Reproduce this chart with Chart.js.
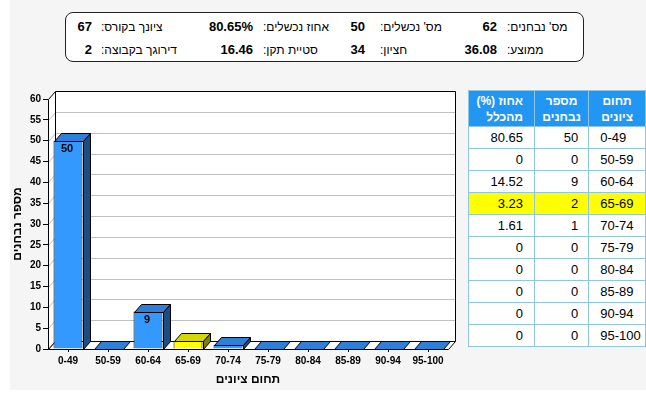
<!DOCTYPE html>
<html lang="he">
<head>
<meta charset="utf-8">
<title>התפלגות ציונים</title>
<script src="https://cdn.jsdelivr.net/npm/chart.js@4.4.1/dist/chart.umd.min.js"></script>
<style>
  body { margin: 0; background: #fff; font-family: "Liberation Sans", Arial, sans-serif; }
  #page { position: absolute; left: 10px; top: 0; width: 636px; height: 390px; background: #f5f5f5; }
  #stats { position: absolute; left: 65px; top: 12px; width: 517px; height: 48px; background: #fff;
           border: 1px solid #222; border-radius: 8px; }
  #stats span { position: absolute; line-height: 16px; font-size: 12px; white-space: nowrap; color: #000; }
  #stats span.val { font-weight: bold; font-size: 13px; }
  #chartBox { position: absolute; left: 0; top: 85px; width: 470px; height: 305px; }
  #dist { position: absolute; left: 468px; top: 90px; border-collapse: collapse; table-layout: fixed;
          font-size: 13px; color: #000; }
  #dist th, #dist td { border: 1px solid #8ec6e6; }
  #dist th { background: #2196f3; color: #fff; font-weight: bold; font-size: 12px; line-height: 16px; height: 35px; padding: 0; }
  #dist td { height: 21px; padding: 0; }
  #dist .c-range { width: 57px; }
  #dist .c-count { width: 51px; }
  #dist .c-pct { width: 63px; }
  #dist th.c-range, #dist th.c-count { text-align: center; }
  #dist th.c-pct { text-align: right; padding-right: 11px; }
  #dist td.c-range { text-align: left; padding-left: 11px; }
  #dist td.c-count { text-align: right; padding-right: 10px; }
  #dist td.c-pct { text-align: right; padding-right: 11px; }
  #dist tr.mine td { background: #ffff00; }
  #dist tbody tr { background: #fff; }
</style>
</head>
<body>
<div id="page"></div>
<div id="stats" dir="rtl"></div>
<div id="chartBox"><canvas id="gradeChart" width="470" height="305"></canvas></div>
<table id="dist" dir="rtl">
  <thead>
    <tr>
      <th class="c-range">תחום<br>ציונים</th>
      <th class="c-count">מספר<br>נבחנים</th>
      <th class="c-pct">אחוז (%)<br>מהכלל</th>
    </tr>
  </thead>
  <tbody id="distBody"></tbody>
</table>

<script>
const ranges = ["0-49", "50-59", "60-64", "65-69", "70-74", "75-79", "80-84", "85-89", "90-94", "95-100"];
const counts = [50, 0, 9, 2, 1, 0, 0, 0, 0, 0];
const percents = [80.65, 0, 14.52, 3.23, 1.61, 0, 0, 0, 0, 0];
const myRange = "65-69";

const statLabels = ["מס' נבחנים:", "מס' נכשלים:", "אחוז נכשלים:", "ציונך בקורס:",
                    "ממוצע:", "חציון:", "סטיית תקן:", "דירוגך בקבוצה:"];
const statValues = ["62", "50", "80.65%", "67", "36.08", "34", "16.46", "2"];

const xTitle = "תחום ציונים";
const yTitle = "מספר נבחנים";

// look
const FONT = "'Liberation Sans', Arial, sans-serif";
const DEPTH_X = 7, DEPTH_Y = 8;
const colors = {
  normal: { front: "#3399ff", top: "#2f7fd8", side: "#1d4d80" },
  mine:   { front: "#ffff00", top: "#d6d600", side: "#7f7f00" }
};
// labels are left-aligned, values right-aligned (offsets inside the stats box)
const statLabelLeft = [441, 314, 197, 35];
const statValueRight = [86, 218, 330, 491];

// stats box
const stats = document.querySelector("#stats");
statLabels.forEach((label, i) => {
  const row = Math.floor(i / 4), col = i % 4;
  const top = row === 0 ? 6 : 29;
  const l = document.createElement("span");
  l.textContent = label;
  l.style.left = statLabelLeft[col] + "px";
  l.style.top = top + "px";
  stats.appendChild(l);
  const v = document.createElement("span");
  v.className = "val";
  v.textContent = statValues[i];
  v.style.right = statValueRight[col] + "px";
  v.style.top = top + "px";
  stats.appendChild(v);
});

// table
const distBody = document.querySelector("#distBody");
ranges.forEach((r, i) => {
  const tr = document.createElement("tr");
  if (r === myRange) tr.classList.add("mine");
  tr.innerHTML = `<td class="c-range">${r}</td><td class="c-count">${counts[i]}</td><td class="c-pct">${percents[i]}</td>`;
  distBody.appendChild(tr);
});

function poly(ctx, pts, fill) {
  ctx.beginPath();
  ctx.moveTo(pts[0][0], pts[0][1]);
  pts.slice(1).forEach(p => ctx.lineTo(p[0], p[1]));
  ctx.closePath();
  if (fill) { ctx.fillStyle = fill; ctx.fill(); }
  ctx.stroke();
}

const px = v => Math.round(v) + 0.5;

const box3d = {
  id: "box3d",
  beforeDatasetsDraw(chart) {
    const { ctx, chartArea: a, scales: { y } } = chart;
    const L = px(a.left), R = px(a.right), T = px(a.top), B = px(a.bottom);
    ctx.save();
    ctx.lineWidth = 1;
    ctx.fillStyle = "#fff";
    ctx.fillRect(L + DEPTH_X, T - DEPTH_Y, R - L, B - T);
    ctx.beginPath();
    ctx.moveTo(L, T); ctx.lineTo(L + DEPTH_X, T - DEPTH_Y); ctx.lineTo(L + DEPTH_X, B - DEPTH_Y); ctx.lineTo(L, B);
    ctx.closePath(); ctx.fill();

    ctx.strokeStyle = "#c0c0c0";
    y.ticks.forEach(t => {
      if (t.value === y.min || t.value === y.max) return;
      const py = px(y.getPixelForValue(t.value));
      ctx.beginPath();
      ctx.moveTo(L, py);
      ctx.lineTo(L + DEPTH_X, py - DEPTH_Y);
      ctx.lineTo(R + DEPTH_X, py - DEPTH_Y);
      ctx.stroke();
    });

    ctx.strokeStyle = "#000";
    // walls outline
    poly(ctx, [[L, B], [L, T], [L + DEPTH_X, T - DEPTH_Y], [L + DEPTH_X, B - DEPTH_Y]], null);
    ctx.beginPath();
    ctx.moveTo(L + DEPTH_X, T - DEPTH_Y);
    ctx.lineTo(R + DEPTH_X, T - DEPTH_Y);
    ctx.lineTo(R + DEPTH_X, B - DEPTH_Y);
    ctx.stroke();
    // floor
    poly(ctx, [[L, B], [R, B], [R + DEPTH_X, B - DEPTH_Y], [L + DEPTH_X, B - DEPTH_Y]], "#fff");
    ctx.restore();
  },
  afterDatasetsDraw(chart) {
    const { ctx } = chart;
    const meta = chart.getDatasetMeta(0);
    ctx.save();
    ctx.lineWidth = 1;
    ctx.strokeStyle = "#000";
    meta.data.forEach((bar, i) => {
      const { x, y, base, width } = bar.getProps(["x", "y", "base", "width"], true);
      const c = ranges[i] === myRange ? colors.mine : colors.normal;
      const l = px(x - width / 2), r = px(x + width / 2), t = px(y), b = px(base);
      poly(ctx, [[l, t], [r, t], [r + DEPTH_X, t - DEPTH_Y], [l + DEPTH_X, t - DEPTH_Y]], c.top);
      if (b - t > 0) {
        poly(ctx, [[r, t], [r + DEPTH_X, t - DEPTH_Y], [r + DEPTH_X, b - DEPTH_Y], [r, b]], c.side);
      }
      if (b - t >= 20) {
        ctx.fillStyle = "#000";
        ctx.font = "bold 11px " + FONT;
        ctx.textAlign = "center";
        ctx.textBaseline = "middle";
        ctx.fillText(String(counts[i]), x - 1, t + 7);
      }
    });
    ctx.restore();
  }
};

const tickFont = { family: FONT, size: 10, weight: "bold" };
const titleFont = { family: FONT, size: 12, weight: "bold" };

new Chart(document.querySelector("#gradeChart"), {
  type: "bar",
  data: {
    labels: ranges,
    datasets: [{
      data: counts,
      backgroundColor: ranges.map(r => r === myRange ? colors.mine.front : colors.normal.front),
      borderColor: "#000",
      borderWidth: 1,
      barPercentage: 0.725,
      categoryPercentage: 1
    }]
  },
  options: {
    responsive: false,
    animation: false,
    layout: { padding: { top: 14, right: 22, left: 0, bottom: 0 } },
    plugins: { legend: { display: false }, tooltip: { enabled: false } },
    scales: {
      x: {
        grid: { offset: false, drawOnChartArea: false, drawTicks: true, tickLength: 3, color: "#000" },
        border: { display: false },
        ticks: { font: tickFont, color: "#000", padding: 3, maxRotation: 0, autoSkip: false },
        title: { display: true, text: xTitle, font: titleFont, color: "#000", padding: { top: 0, bottom: 3 } },
        afterFit: s => { s.height = 41; }
      },
      y: {
        min: 0,
        max: 60,
        ticks: { stepSize: 5, font: tickFont, color: "#000", padding: 2 },
        grid: { drawOnChartArea: false, drawTicks: true, tickLength: 5, color: "#000" },
        border: { display: false },
        title: { display: true, text: yTitle, font: titleFont, color: "#000", padding: { top: 10, bottom: 0 } },
        afterFit: s => { s.width = 48; }
      }
    }
  },
  plugins: [box3d]
});
</script>
</body>
</html>
